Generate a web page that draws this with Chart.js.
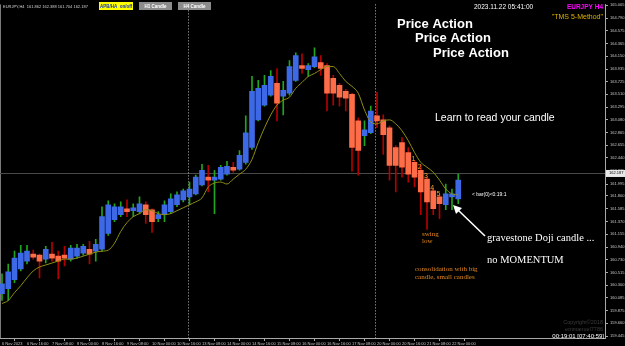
<!DOCTYPE html>
<html>
<head>
<meta charset="utf-8">
<script src="https://cdn.jsdelivr.net/npm/chart.js@4.4.0/dist/chart.umd.min.js"></script>
<style>
  html, body { margin: 0; padding: 0; background: #000; }
  canvas { display: block; }
</style>
</head>
<body>
<canvas id="priceChart" width="625" height="346"></canvas>
<script>
// EURJPY H4, one entry per bar from 6 Nov 00:00 to 22 Nov 04:00
const opens = [160.158, 160.241, 160.391, 160.573, 160.706, 160.822, 160.806, 160.739, 160.822, 160.789,
  160.806, 160.739, 160.789, 160.839, 160.905, 160.872, 160.905, 161.171, 161.403, 161.486,
  161.586, 161.553, 161.536, 161.652, 161.569, 161.420, 161.486, 161.536, 161.652, 161.735,
  161.785, 161.835, 161.984, 162.117, 162.067, 162.084, 162.167, 162.283, 162.250, 162.366,
  162.615, 163.080, 163.329, 163.495, 163.694, 163.478, 163.528, 163.744, 163.993, 163.926,
  163.976, 164.042, 163.993, 163.777, 163.661, 163.561, 163.511, 163.063, 162.814, 162.864,
  163.146, 163.080, 162.947, 162.615, 162.698, 162.532, 162.366, 162.233, 162.084, 161.885,
  161.785, 161.652, 161.785, 161.752];
const highs = [160.490, 160.656, 160.872, 160.972, 160.972, 160.889, 160.822, 160.955, 161.022, 160.872,
  160.955, 160.972, 160.988, 160.988, 161.038, 161.071, 161.619, 161.719, 161.669, 161.702,
  161.735, 161.669, 161.785, 161.702, 161.586, 161.536, 161.719, 161.835, 161.868, 161.918,
  162.034, 162.150, 162.333, 162.316, 162.233, 162.316, 162.383, 162.366, 162.565, 163.146,
  163.810, 163.744, 163.827, 163.910, 163.943, 163.727, 164.076, 164.208, 164.192, 164.026,
  164.291, 164.159, 164.026, 163.827, 163.694, 163.594, 163.528, 163.113, 163.063, 163.312,
  163.544, 163.163, 162.980, 162.648, 162.781, 162.615, 162.399, 162.316, 162.117, 161.918,
  161.818, 162.001, 161.918, 162.167];
const lows = [160.042, 160.042, 160.341, 160.540, 160.656, 160.739, 160.424, 160.673, 160.706, 160.407,
  160.623, 160.706, 160.756, 160.806, 160.656, 160.706, 160.872, 161.138, 161.370, 161.453,
  161.453, 161.453, 161.503, 161.337, 161.188, 161.370, 161.370, 161.503, 161.619, 161.702,
  161.652, 161.818, 161.968, 161.868, 161.503, 162.067, 162.150, 162.200, 162.233, 162.333,
  162.582, 163.063, 163.312, 163.478, 163.063, 163.163, 163.495, 163.727, 163.860, 163.810,
  163.959, 163.827, 163.229, 163.329, 163.312, 163.229, 162.217, 162.150, 162.648, 162.847,
  162.947, 162.499, 162.067, 161.868, 162.117, 162.034, 161.951, 161.486, 161.237, 161.486,
  161.420, 161.569, 161.569, 161.669];
const closes = [160.324, 160.524, 160.756, 160.839, 160.872, 160.773, 160.706, 160.905, 160.756, 160.706,
  160.756, 160.922, 160.922, 160.955, 160.822, 160.988, 161.453, 161.652, 161.619, 161.619,
  161.536, 161.602, 161.669, 161.486, 161.370, 161.486, 161.652, 161.752, 161.818, 161.885,
  161.918, 162.117, 162.233, 162.067, 162.117, 162.283, 162.300, 162.233, 162.482, 162.864,
  163.561, 163.611, 163.661, 163.810, 163.362, 163.578, 163.976, 164.159, 163.943, 163.993,
  164.142, 163.943, 163.528, 163.528, 163.461, 163.445, 162.615, 162.565, 162.914, 163.229,
  163.063, 162.831, 162.316, 162.316, 162.283, 162.167, 162.117, 161.868, 161.702, 161.586,
  161.669, 161.835, 161.835, 162.067];
const maValues = [159.992, 160.042, 160.175, 160.291, 160.424, 160.540, 160.606, 160.640, 160.673, 160.706,
  160.739, 160.739, 160.756, 160.789, 160.822, 160.856, 160.872, 160.889, 161.005, 161.204,
  161.353, 161.453, 161.503, 161.569, 161.553, 161.503, 161.486, 161.503, 161.553, 161.602,
  161.652, 161.702, 161.768, 161.951, 162.018, 162.034, 162.001, 162.084, 162.167, 162.250,
  162.416, 162.698, 162.947, 163.163, 163.329, 163.412, 163.461, 163.611, 163.710, 163.810,
  163.860, 163.926, 163.976, 163.976, 163.860, 163.727, 163.644, 163.528, 163.246, 163.046,
  163.013, 163.063, 163.080, 163.013, 162.897, 162.731, 162.532, 162.366, 162.283, 162.200,
  162.067, 161.918, 161.835, 161.818];

// one time label every 4 bars
const timeLabels = ['6 Nov 2023', '6 Nov 16:00', '7 Nov 08:00', '8 Nov 00:00', '8 Nov 16:00',
  '9 Nov 08:00', '10 Nov 00:00', '10 Nov 16:00', '13 Nov 08:00', '14 Nov 00:00', '14 Nov 16:00',
  '15 Nov 08:00', '16 Nov 00:00', '16 Nov 16:00', '17 Nov 08:00', '20 Nov 00:00', '20 Nov 16:00',
  '21 Nov 08:00', '22 Nov 00:00'];
const priceTicks = [165.005, 164.790, 164.575, 164.365, 164.150, 163.935, 163.725, 163.510, 163.295,
  163.080, 162.865, 162.655, 162.440, 162.225, 161.995, 161.800, 161.585, 161.370, 161.155, 160.940,
  160.730, 160.515, 160.300, 160.085, 159.875, 159.660, 159.445];
const weekStarts = [30, 60];          // Monday 13 Nov 00:00, Monday 20 Nov 00:00
const countedBars = [66, 67, 68, 69, 70];
const lastPrice = 162.187;

const idx = opens.map((o, i) => i);
const isBull = idx.map(i => closes[i] >= opens[i]);

const overlay = {
  id: 'overlay',
  beforeDraw(chart) {
    const c = chart.ctx;
    c.save();
    c.fillStyle = '#000';
    c.fillRect(0, 0, chart.width, chart.height);
    c.restore();
  },
  beforeDatasetsDraw(chart) {
    const c = chart.ctx, a = chart.chartArea;
    const xs = chart.scales.x, ys = chart.scales.y;
    c.save();
    // left frame
    c.strokeStyle = '#7a7a7a';
    c.lineWidth = 1;
    c.beginPath(); c.moveTo(0.5, a.top); c.lineTo(0.5, a.bottom); c.stroke();
    // last price line
    const py = Math.round(ys.getPixelForValue(lastPrice)) + 0.5;
    c.strokeStyle = '#4a4a4a';
    c.beginPath(); c.moveTo(a.left, py); c.lineTo(a.right, py); c.stroke();
    // week separators
    c.strokeStyle = '#bdbdbd';
    c.setLineDash([1, 2]);
    weekStarts.forEach(b => {
      const x = Math.round(xs.getPixelForValue(b)) - 1.5;
      c.beginPath(); c.moveTo(x, a.top); c.lineTo(x, a.bottom); c.stroke();
    });
    c.restore();
  },
  afterDraw(chart) {
    const c = chart.ctx;
    const xs = chart.scales.x, ys = chart.scales.y;
    c.save();
    c.textBaseline = 'alphabetic';

    // info line top-left
    c.fillStyle = '#d0d0d0';
    c.font = '4px "Liberation Sans"';
    c.fillText('EURJPY,H4  161.862 162.388 161.704 162.187', 3, 8);

    // buttons
    c.fillStyle = '#ffff00';
    c.fillRect(99, 2, 34, 8);
    c.fillStyle = '#1030c0';
    c.font = 'bold 4.5px "Liberation Sans"';
    c.textAlign = 'center';
    c.fillText('APB/HA  on/off', 116, 7.8);
    [[139, 'H1 Candle'], [178, 'H4 Candle']].forEach(([x, t]) => {
      c.fillStyle = '#8c8c8c';
      c.fillRect(x, 2, 33, 8);
      c.fillStyle = '#ffffff';
      c.fillText(t, x + 16.5, 7.8);
    });

    // date / symbol
    c.textAlign = 'left';
    c.fillStyle = '#ffffff';
    c.font = '6.5px "Liberation Sans"';
    c.fillText('2023.11.22 05:41:00', 474, 9);
    c.textAlign = 'right';
    c.fillStyle = '#ff00ff';
    c.font = 'bold 6.5px "Liberation Sans"';
    c.fillText('EURJPY H4', 603, 9);
    c.fillStyle = '#e0b000';
    c.font = '7px "Liberation Sans"';
    c.fillText('"TMS 5-Method"', 603, 19);

    // headline
    c.textAlign = 'left';
    c.fillStyle = '#ffffff';
    c.font = 'bold 13px "Liberation Sans"';
    c.fillText('Price Action', 397, 28);
    c.fillText('Price Action', 415, 42);
    c.fillText('Price Action', 433, 57);

    c.font = '10.5px "Liberation Sans"';
    c.fillText('Learn to read your candle', 435, 121);

    // count digits over the falling bars
    c.fillStyle = '#f0a030';
    c.font = '7px "Liberation Sans"';
    c.textAlign = 'center';
    countedBars.forEach((b, k) => {
      const x = xs.getPixelForValue(b) - 1;
      const y = ys.getPixelForValue(Math.max(opens[b], closes[b])) - 1;
      c.fillText(String(k + 1), x, y);
    });

    // notes
    c.textAlign = 'left';
    c.fillStyle = '#ffffff';
    c.font = '5px "Liberation Sans"';
    c.fillText('< bar(0)<0:19:1', 472, 196);

    c.font = '10.5px "Liberation Serif"';
    c.fillText('gravestone Doji candle ...', 487, 241);
    c.fillText('no MOMENTUM', 487, 263);

    c.fillStyle = '#e8891c';
    c.font = '7px "Liberation Serif"';
    c.fillText('swing', 422, 236);
    c.fillText('low', 422, 243);
    c.fillText('consolidation with big', 415, 271);
    c.fillText('candle, small candles', 415, 279);

    // arrow to the doji
    c.strokeStyle = '#ffffff';
    c.fillStyle = '#ffffff';
    c.lineWidth = 1.6;
    c.beginPath(); c.moveTo(485, 236); c.lineTo(458, 210); c.stroke();
    c.beginPath();
    c.moveTo(453, 205); c.lineTo(462, 208); c.lineTo(456, 214); c.closePath(); c.fill();

    // watermark and timer
    c.textAlign = 'right';
    c.fillStyle = '#3c3c3c';
    c.font = '5.5px "Liberation Sans"';
    c.fillText('Copyright©2018', 603, 324);
    c.fillText('emmanuel7786', 603, 331);
    c.fillStyle = '#ffffff';
    c.font = '6px "Liberation Sans"';
    c.fillText('00:19:01 [07:40:59]', 604, 338);

    // last price box on the axis
    const py = ys.getPixelForValue(lastPrice);
    c.fillStyle = '#e8e8e8';
    c.fillRect(606, py - 3, 19, 7);
    c.fillStyle = '#000000';
    c.textAlign = 'left';
    c.font = '4px "Liberation Sans"';
    c.fillText(lastPrice.toFixed(3), 609, py + 1.5);
    c.restore();
  }
};

new Chart(document.getElementById('priceChart'), {
  type: 'bar',
  data: {
    datasets: [
      {
        type: 'line',
        data: idx.map(i => ({ x: i, y: maValues[i] })),
        borderColor: '#8f8d14',
        borderWidth: 1,
        pointRadius: 0,
        cubicInterpolationMode: 'monotone',
        order: 0
      },
      {
        data: idx.map(i => ({ x: i, y: [opens[i], closes[i]] })),
        backgroundColor: isBull.map(b => b ? '#3d68e6' : '#ff6c48'),
        barThickness: 5,
        minBarLength: 1,
        grouped: false,
        order: 1
      },
      {
        data: idx.map(i => ({ x: i, y: [lows[i], highs[i]] })),
        backgroundColor: isBull.map(b => b ? '#1fa51f' : '#b40000'),
        barThickness: 1,
        grouped: false,
        order: 2
      }
    ]
  },
  options: {
    responsive: false,
    animation: false,
    devicePixelRatio: 1,
    layout: { padding: 0 },
    plugins: { legend: { display: false }, tooltip: { enabled: false } },
    scales: {
      x: {
        type: 'linear',
        min: -0.32,
        max: 96.48,
        offset: false,
        afterBuildTicks: s => { s.ticks = timeLabels.map((t, k) => ({ value: k * 4 })); },
        afterFit: s => { s.height = 8; },
        ticks: {
          autoSkip: false, maxRotation: 0, align: 'start', padding: 0,
          color: '#c8c8c8', font: { family: 'Liberation Sans', size: 4 },
          callback: (v, i) => timeLabels[i]
        },
        grid: { display: true, drawOnChartArea: false, drawTicks: true, tickLength: 3, color: '#a8a8a8' },
        border: { display: true, color: '#a8a8a8' }
      },
      y: {
        position: 'right',
        min: 159.412,
        max: 165.0216,
        afterBuildTicks: s => { s.ticks = priceTicks.map(v => ({ value: v })); },
        afterFit: s => { s.width = 20; },
        ticks: {
          autoSkip: false, padding: 2,
          color: '#c8c8c8', font: { family: 'Liberation Sans', size: 4 },
          callback: v => v.toFixed(3)
        },
        grid: { display: true, drawOnChartArea: false, drawTicks: true, tickLength: 3, color: '#a8a8a8' },
        border: { display: true, color: '#a8a8a8' }
      }
    }
  },
  plugins: [overlay]
});
</script>
</body>
</html>
